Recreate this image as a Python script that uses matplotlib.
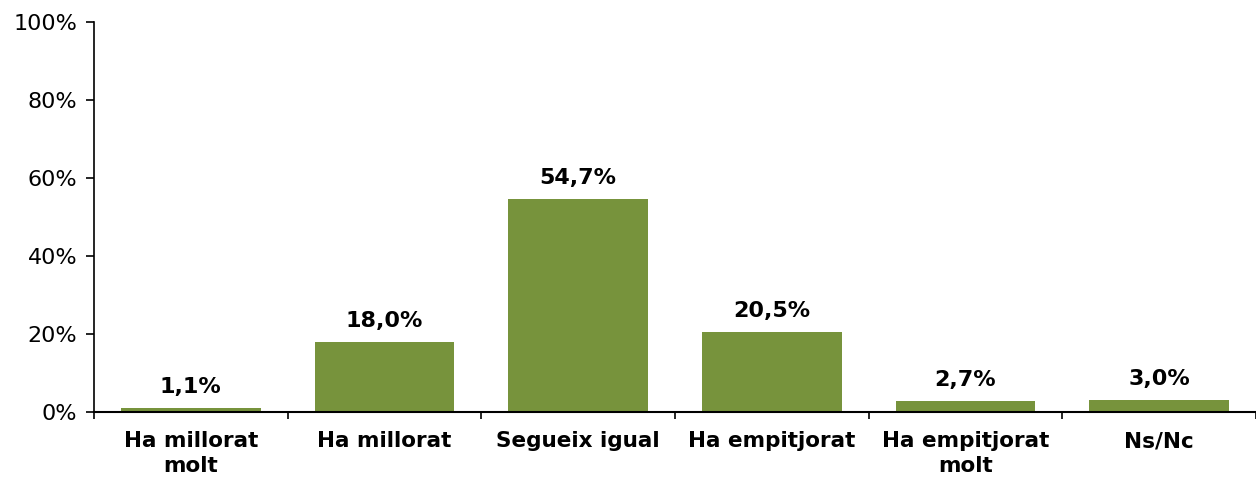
import numpy as np
import matplotlib.pyplot as plt
from matplotlib.ticker import FixedLocator, NullFormatter

categories = ['Ha millorat\nmolt', 'Ha millorat', 'Segueix igual', 'Ha empitjorat',
              'Ha empitjorat\nmolt', 'Ns/Nc']
values = [1.1, 18.0, 54.7, 20.5, 2.7, 3.0]
labels = ['1,1%', '18,0%', '54,7%', '20,5%', '2,7%', '3,0%']

fig = plt.figure(figsize=(12.56, 4.8), dpi=100)
ax = fig.add_axes([94 / 1256, 1 - 412 / 480, 1 - 94 / 1256, 390 / 480])

x = np.arange(len(categories))
ax.bar(x, values, width=0.72, color='#77933C', zorder=2)
for xi, v, lab in zip(x, values, labels):
    ax.annotate(lab, (xi, v), xytext=(0, 8), textcoords='offset points',
                ha='center', va='bottom', fontsize=16, fontweight='bold')

ax.set_xlim(-0.5, len(categories) - 0.5)
ax.set_ylim(0, 100)
ax.set_yticks(range(0, 101, 20))
ax.set_yticklabels([f'{t}%' for t in range(0, 101, 20)], fontsize=16)

ax.set_xticks(x)
ax.set_xticklabels(categories, fontsize=15.5, fontweight='bold', linespacing=1.3)
ax.tick_params(axis='x', which='major', length=0, pad=14)
ax.xaxis.set_minor_locator(FixedLocator(np.arange(-0.5, len(categories), 1.0)))
ax.xaxis.set_minor_formatter(NullFormatter())
ax.tick_params(axis='x', which='minor', length=5, width=1.2, direction='out')
ax.tick_params(axis='y', length=6, width=1.2, direction='out', pad=6)

ax.spines['top'].set_visible(False)
ax.spines['right'].set_visible(False)
ax.spines['left'].set_linewidth(1.2)
ax.spines['bottom'].set_linewidth(1.5)
ax.spines['bottom'].set_zorder(3)

fig.savefig('out.png', dpi=100)
